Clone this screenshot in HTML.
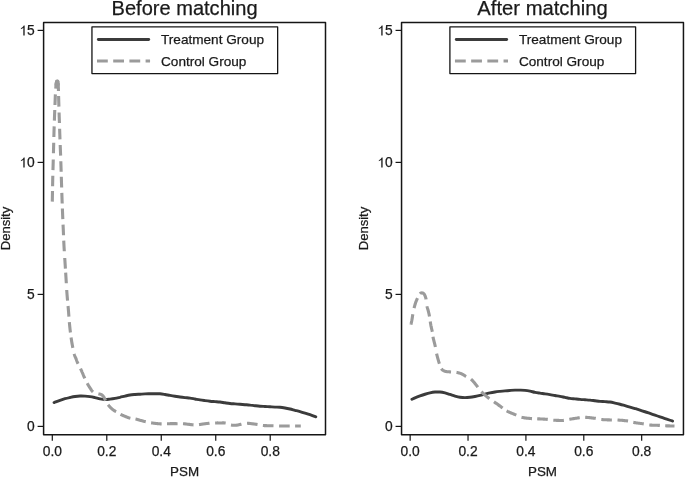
<!DOCTYPE html>
<html><head><meta charset="utf-8"><style>
html,body{margin:0;padding:0;background:#fff;}
svg{display:block;will-change:transform;font-family:'Liberation Sans',sans-serif;}
text{font-family:'Liberation Sans',sans-serif;stroke:#1a1a1a;stroke-width:0.25px;}
</style></head><body>
<svg width="685" height="478" viewBox="0 0 685 478">
<rect width="685" height="478" fill="#fff"/>
<rect x="43.60" y="22.4" width="281.9" height="412.45" fill="none" stroke="#151515" stroke-width="1.5" stroke-linejoin="round"/>
<text x="184.55" y="14.9" text-anchor="middle" font-size="19.3" textLength="146.0" lengthAdjust="spacingAndGlyphs" fill="#1a1a1a">Before matching</text>
<line x1="37.60" y1="30.4" x2="43.6" y2="30.4" stroke="#151515" stroke-width="1.2"/>
<text x="34.80" y="35.40" text-anchor="end" font-size="13.8" fill="#1a1a1a">5</text>
<path transform="translate(19.45,35.50) scale(0.006738,-0.006738)" d="M772,0L574,0L574,1147C539,1105 481,1063 410,1021C339,979 275,948 219,926L219,1100C319,1147 407,1204 482,1271C557,1338 610,1403 641,1466L772,1466Z" fill="#1a1a1a"/>
<line x1="37.60" y1="162.4" x2="43.6" y2="162.4" stroke="#151515" stroke-width="1.2"/>
<text x="34.80" y="167.40" text-anchor="end" font-size="13.8" fill="#1a1a1a">0</text>
<path transform="translate(19.45,167.50) scale(0.006738,-0.006738)" d="M772,0L574,0L574,1147C539,1105 481,1063 410,1021C339,979 275,948 219,926L219,1100C319,1147 407,1204 482,1271C557,1338 610,1403 641,1466L772,1466Z" fill="#1a1a1a"/>
<line x1="37.60" y1="294.4" x2="43.6" y2="294.4" stroke="#151515" stroke-width="1.2"/>
<text x="34.80" y="299.40" text-anchor="end" font-size="13.8" fill="#1a1a1a">5</text>
<line x1="37.60" y1="426.4" x2="43.6" y2="426.4" stroke="#151515" stroke-width="1.2"/>
<text x="34.80" y="431.40" text-anchor="end" font-size="13.8" fill="#1a1a1a">0</text>
<line x1="52.30" y1="434.8" x2="52.30" y2="440.7" stroke="#151515" stroke-width="1.2"/>
<text x="52.30" y="456.2" text-anchor="middle" font-size="13.8" fill="#1a1a1a">0.0</text>
<line x1="106.78" y1="434.8" x2="106.78" y2="440.7" stroke="#151515" stroke-width="1.2"/>
<text x="106.78" y="456.2" text-anchor="middle" font-size="13.8" fill="#1a1a1a">0.2</text>
<line x1="161.26" y1="434.8" x2="161.26" y2="440.7" stroke="#151515" stroke-width="1.2"/>
<text x="161.26" y="456.2" text-anchor="middle" font-size="13.8" fill="#1a1a1a">0.4</text>
<line x1="215.74" y1="434.8" x2="215.74" y2="440.7" stroke="#151515" stroke-width="1.2"/>
<text x="215.74" y="456.2" text-anchor="middle" font-size="13.8" fill="#1a1a1a">0.6</text>
<line x1="270.22" y1="434.8" x2="270.22" y2="440.7" stroke="#151515" stroke-width="1.2"/>
<text x="270.22" y="456.2" text-anchor="middle" font-size="13.8" fill="#1a1a1a">0.8</text>
<text x="184.55" y="476.4" text-anchor="middle" font-size="13.4" fill="#1a1a1a">PSM</text>
<text transform="translate(9.60,228.5) rotate(-90)" text-anchor="middle" font-size="13.0" fill="#1a1a1a">Density</text>
<rect x="91.95" y="26.95" width="185.7" height="46.65" fill="#fff" stroke="#151515" stroke-width="1.3" stroke-linejoin="round"/>
<line x1="98.35" y1="39.45" x2="148.70" y2="39.45" stroke="#3b3b3b" stroke-width="2.9" stroke-linecap="round"/>
<line x1="97.00" y1="61" x2="150.05" y2="61" stroke="#9b9b9b" stroke-width="3.1" stroke-dasharray="10.8 5.4"/>
<text x="161.00" y="44" font-size="13.6" fill="#1a1a1a">Treatment Group</text>
<text x="161.00" y="66" font-size="13.6" fill="#1a1a1a">Control Group</text>
<path d="M54.10,402.60C54.25,402.52 54.02,402.48 55.00,402.10C55.98,401.72 58.33,400.87 60.00,400.30C61.67,399.73 63.33,399.17 65.00,398.70C66.67,398.23 68.33,397.87 70.00,397.50C71.67,397.13 73.33,396.75 75.00,396.50C76.67,396.25 78.33,396.07 80.00,396.00C81.67,395.93 83.33,396.00 85.00,396.10C86.67,396.20 88.33,396.35 90.00,396.60C91.67,396.85 93.33,397.23 95.00,397.60C96.67,397.97 98.33,398.48 100.00,398.80C101.67,399.12 103.33,399.45 105.00,399.50C106.67,399.55 108.33,399.28 110.00,399.10C111.67,398.92 113.33,398.70 115.00,398.40C116.67,398.10 118.33,397.68 120.00,397.30C121.67,396.92 123.33,396.48 125.00,396.10C126.67,395.72 128.33,395.27 130.00,395.00C131.67,394.73 133.33,394.63 135.00,394.50C136.67,394.37 138.33,394.30 140.00,394.20C141.67,394.10 143.33,393.97 145.00,393.90C146.67,393.83 148.33,393.83 150.00,393.80C151.67,393.77 153.33,393.70 155.00,393.70C156.67,393.70 158.33,393.67 160.00,393.80C161.67,393.93 163.33,394.23 165.00,394.50C166.67,394.77 168.33,395.12 170.00,395.40C171.67,395.68 173.33,395.93 175.00,396.20C176.67,396.47 178.33,396.77 180.00,397.00C181.67,397.23 183.33,397.42 185.00,397.60C186.67,397.78 188.33,397.87 190.00,398.10C191.67,398.33 193.33,398.70 195.00,399.00C196.67,399.30 198.33,399.63 200.00,399.90C201.67,400.17 203.33,400.38 205.00,400.60C206.67,400.82 208.33,401.03 210.00,401.20C211.67,401.37 213.33,401.47 215.00,401.60C216.67,401.73 218.33,401.80 220.00,402.00C221.67,402.20 223.33,402.55 225.00,402.80C226.67,403.05 228.33,403.32 230.00,403.50C231.67,403.68 233.33,403.77 235.00,403.90C236.67,404.03 238.33,404.17 240.00,404.30C241.67,404.43 243.33,404.57 245.00,404.70C246.67,404.83 248.33,404.93 250.00,405.10C251.67,405.27 253.33,405.52 255.00,405.70C256.67,405.88 258.33,406.07 260.00,406.20C261.67,406.33 263.33,406.40 265.00,406.50C266.67,406.60 268.33,406.70 270.00,406.80C271.67,406.90 273.33,407.02 275.00,407.10C276.67,407.18 278.33,407.15 280.00,407.30C281.67,407.45 283.33,407.72 285.00,408.00C286.67,408.28 288.33,408.62 290.00,409.00C291.67,409.38 293.33,409.87 295.00,410.30C296.67,410.73 298.33,411.13 300.00,411.60C301.67,412.07 303.33,412.58 305.00,413.10C306.67,413.62 308.20,414.08 310.00,414.70C311.80,415.32 314.83,416.45 315.80,416.80" fill="none" stroke="#3b3b3b" stroke-width="2.9" stroke-linecap="round" stroke-linejoin="round"/>
<path d="M52.30,201.60 L52.31,201.10 L52.32,200.50 L52.33,199.80 L52.35,199.01 L52.36,198.16 L52.38,197.24 L52.40,196.27 L52.42,195.25 L52.44,194.21 L52.46,193.14 L52.48,192.07 L52.50,191.00M52.59,186.29 L52.61,185.01 L52.64,183.71 L52.66,182.40 L52.69,181.09 L52.72,179.78 L52.74,178.49 L52.77,177.23 L52.80,176.00 L52.81,175.69M52.96,170.15 L52.99,169.00 L53.03,167.85 L53.06,166.70 L53.10,165.55 L53.13,164.38 L53.17,163.20 L53.20,162.00 L53.23,160.79 L53.27,159.56 L53.27,159.55M53.43,153.30 L53.43,153.30 L53.47,152.04 L53.50,150.77 L53.53,149.51 L53.57,148.25 L53.60,147.00 L53.63,145.75 L53.67,144.50 L53.70,143.25 L53.71,142.70M53.86,137.00 L53.86,137.00 L53.89,135.75 L53.93,134.50 L53.96,133.25 L54.00,132.00 L54.04,130.74 L54.08,129.48 L54.12,128.20 L54.16,126.93 L54.18,126.41M54.37,120.61 L54.37,120.61 L54.42,119.38 L54.46,118.18 L54.50,117.00 L54.54,115.84 L54.58,114.68 L54.63,113.54 L54.67,112.41 L54.71,111.29 L54.76,110.19 L54.76,110.02M54.96,104.97 L55.00,104.00 L55.04,103.05 L55.07,102.13 L55.10,101.23 L55.14,100.35 L55.17,99.49 L55.20,98.66 L55.23,97.84 L55.26,97.04 L55.30,96.25 L55.33,95.49 L55.36,94.74 L55.38,94.38M55.72,88.69 L55.72,88.69 L55.77,88.11 L55.81,87.55 L55.85,87.01 L55.90,86.50 L55.95,86.01 L55.99,85.54 L56.04,85.09 L56.09,84.66 L56.14,84.26 L56.19,83.87 L56.24,83.50 L56.29,83.16 L56.34,82.84 L56.39,82.54 L56.45,82.26 L56.50,82.00 L56.56,81.77 L56.62,81.57 L56.68,81.40 L56.75,81.25 L56.82,81.13 L56.89,81.02 L56.95,80.93 L57.01,80.85 L57.07,80.78 L57.12,80.72 L57.17,80.66 L57.20,80.60M57.20,80.60 L57.23,80.66 L57.28,80.72 L57.33,80.78 L57.39,80.85 L57.46,80.93 L57.53,81.02 L57.59,81.13 L57.66,81.25 L57.73,81.40 L57.79,81.57 L57.85,81.77 L57.90,82.00 L57.94,82.25 L57.99,82.51 L58.02,82.79 L58.06,83.09 L58.09,83.40 L58.12,83.74 L58.16,84.11 L58.19,84.51 L58.21,84.95 L58.24,85.42 L58.27,85.94 L58.30,86.50 L58.33,87.10 L58.35,87.74 L58.38,88.42 L58.40,89.13 L58.43,89.88 L58.45,90.66 L58.46,90.99M58.60,96.00 L58.63,97.01 L58.66,98.06 L58.69,99.16 L58.72,100.30 L58.75,101.46 L58.79,102.66 L58.82,103.87 L58.86,105.09 L58.89,106.32 L58.90,106.60M59.08,112.44 L59.12,113.68 L59.16,114.93 L59.20,116.18 L59.24,117.44 L59.29,118.70 L59.33,119.96 L59.37,121.23 L59.42,122.49 L59.43,123.04M59.62,128.75 L59.66,130.00 L59.70,131.25 L59.74,132.50 L59.78,133.75 L59.83,135.00 L59.87,136.25 L59.91,137.50 L59.95,138.75 L59.98,139.34M60.20,145.00 L60.20,145.00 L60.25,146.25 L60.30,147.50 L60.35,148.75 L60.40,150.00 L60.45,151.25 L60.50,152.50 L60.55,153.75 L60.60,155.00 L60.62,155.59M60.82,161.20 L60.82,161.20 L60.86,162.44 L60.90,163.68 L60.94,164.93 L60.98,166.18 L61.02,167.44 L61.06,168.71 L61.10,170.00 L61.14,171.31 L61.16,171.79M61.31,176.80 L61.31,176.80 L61.36,178.19 L61.40,179.57 L61.44,180.93 L61.48,182.26 L61.52,183.55 L61.56,184.80 L61.60,186.00 L61.64,187.13 L61.64,187.39M61.82,192.92 L61.86,193.85 L61.89,194.81 L61.92,195.81 L61.96,196.87 L62.00,198.00 L62.04,199.19 L62.09,200.44 L62.13,201.72 L62.18,203.04 L62.20,203.51M62.39,208.52 L62.44,209.91 L62.49,211.29 L62.55,212.65 L62.60,214.00 L62.65,215.33 L62.71,216.67 L62.77,218.00 L62.82,219.11M63.06,224.67 L63.12,226.00 L63.18,227.33 L63.24,228.67 L63.30,230.00 L63.36,231.33 L63.41,232.67 L63.47,234.00 L63.52,235.26M63.74,240.67 L63.80,242.00 L63.87,243.33 L63.93,244.67 L64.00,246.00 L64.07,247.33 L64.15,248.67 L64.23,250.00 L64.31,251.25M64.74,258.00 L64.74,258.00 L64.83,259.33 L64.92,260.67 L65.00,262.00 L65.08,263.33 L65.17,264.67 L65.25,266.00 L65.33,267.33 L65.41,268.58M65.67,272.67 L65.75,274.00 L65.83,275.33 L65.92,276.67 L66.00,278.00 L66.08,279.33 L66.16,280.67 L66.24,282.00 L66.31,283.25M66.72,290.00 L66.72,290.00 L66.81,291.33 L66.90,292.67 L67.00,294.00 L67.10,295.33 L67.21,296.67 L67.32,298.00 L67.44,299.33 L67.55,300.57M68.05,306.00 L68.17,307.33 L68.29,308.67 L68.40,310.00 L68.51,311.34 L68.62,312.68 L68.72,314.02 L68.82,315.37 L68.91,316.57M69.34,322.07 L69.45,323.39 L69.57,324.70 L69.70,326.00 L69.84,327.29 L69.97,328.58 L70.12,329.87 L70.26,331.15 L70.41,332.43 L70.44,332.61M71.06,337.42 L71.24,338.63 L71.42,339.83 L71.60,341.00 L71.80,342.18 L72.00,343.37 L72.22,344.57 L72.45,345.77 L72.68,346.95 L72.86,347.86M74.20,353.90 L74.37,354.57 L74.54,355.14 L74.69,355.62 L74.83,356.03 L74.97,356.38 L75.11,356.68 L75.24,356.96 L75.37,357.22 L75.50,357.48 L75.63,357.75 L75.76,358.06 L75.90,358.40 L76.04,358.77 L76.17,359.12 L76.30,359.47 L76.42,359.82 L76.55,360.17 L76.67,360.52 L76.81,360.87 L76.94,361.23 L77.09,361.60 L77.25,361.99 L77.42,362.38 L77.60,362.80 L77.80,363.24 L78.02,363.70 L78.05,363.76M80.50,368.60 L80.50,368.60 L80.70,369.02 L80.89,369.41 L81.07,369.80 L81.24,370.17 L81.40,370.53 L81.56,370.88 L81.72,371.23 L81.87,371.58 L82.03,371.93 L82.18,372.28 L82.34,372.63 L82.50,373.00 L82.66,373.37 L82.81,373.73 L82.96,374.09 L83.11,374.45 L83.25,374.81 L83.40,375.17 L83.55,375.53 L83.70,375.91 L83.86,376.29 L84.03,376.68 L84.21,377.08 L84.40,377.50 L84.60,377.94 L84.77,378.30M87.20,383.20 L87.20,383.20 L87.42,383.60 L87.63,383.99 L87.84,384.36 L88.05,384.73 L88.26,385.08 L88.46,385.42 L88.67,385.75 L88.87,386.09 L89.08,386.41 L89.28,386.74 L89.49,387.07 L89.70,387.40 L89.91,387.74 L90.13,388.08 L90.35,388.43 L90.56,388.77 L90.78,389.11 L91.00,389.45 L91.22,389.78 L91.44,390.10 L91.65,390.40 L91.87,390.69 L92.09,390.95 L92.30,391.20 L92.51,391.42 L92.71,391.63 L92.91,391.81 L93.08,391.97M98.40,393.80 L98.68,393.87 L98.96,393.93 L99.23,393.99 L99.50,394.04 L99.77,394.10 L100.04,394.16 L100.30,394.23 L100.55,394.30 L100.80,394.38 L101.04,394.47 L101.27,394.58 L101.50,394.70 L101.72,394.83 L101.93,394.98 L102.13,395.14 L102.32,395.30 L102.51,395.48 L102.69,395.66 L102.87,395.85 L103.04,396.05 L103.21,396.26 L103.38,396.47 L103.54,396.68 L103.70,396.90 L103.85,397.13 L104.00,397.37 L104.14,397.62 L104.28,397.88 L104.41,398.14 L104.54,398.41 L104.67,398.68 L104.80,398.96 L104.92,399.22 L105.05,399.49 L105.17,399.75 L105.30,400.00 L105.43,400.25 L105.56,400.49 L105.64,400.65M108.10,404.80 L108.29,405.04 L108.50,405.29 L108.73,405.56 L108.97,405.85 L109.23,406.14 L109.49,406.44 L109.77,406.75 L110.05,407.05 L110.33,407.35 L110.62,407.65 L110.91,407.93 L111.20,408.20 L111.49,408.46 L111.80,408.72 L112.11,408.98 L112.43,409.23 L112.75,409.48 L113.08,409.72 L113.40,409.97 L113.73,410.20 L114.05,410.44 L114.38,410.66 L114.69,410.88 L115.00,411.10 L115.31,411.31 L115.62,411.52 L115.93,411.73 L116.01,411.77M120.50,414.40 L120.80,414.54 L121.13,414.68 L121.49,414.84 L121.87,415.01 L122.27,415.18 L122.69,415.36 L123.11,415.54 L123.54,415.72 L123.97,415.90 L124.39,416.07 L124.80,416.24 L125.20,416.40 L125.58,416.55 L125.96,416.71 L126.33,416.86 L126.70,417.02 L127.07,417.17 L127.44,417.32 L127.81,417.46 L128.19,417.60 L128.58,417.74 L128.97,417.87 L129.38,417.99 L129.80,418.10 L130.24,418.20 L130.37,418.23M135.50,419.00 L135.95,419.10 L136.39,419.21 L136.82,419.32 L137.25,419.43 L137.67,419.55 L138.09,419.68 L138.51,419.80 L138.93,419.92 L139.35,420.05 L139.76,420.17 L140.18,420.29 L140.60,420.40 L141.02,420.51 L141.43,420.62 L141.85,420.74 L142.26,420.85 L142.67,420.96 L143.07,421.07 L143.49,421.18 L143.90,421.29 L144.32,421.39 L144.74,421.50 L145.17,421.60 L145.60,421.70 L145.74,421.73M151.10,422.80 L151.54,422.87 L151.99,422.94 L152.42,423.01 L152.86,423.07 L153.29,423.14 L153.72,423.19 L154.16,423.25 L154.59,423.30 L155.01,423.36 L155.44,423.41 L155.87,423.45 L156.30,423.50 L156.73,423.55 L157.15,423.59 L157.57,423.63 L157.99,423.67 L158.41,423.71 L158.83,423.75 L159.24,423.78 L159.67,423.81 L160.09,423.84 L160.52,423.87 L160.96,423.89 L161.40,423.90 L161.64,423.90M167.00,423.80 L167.00,423.80 L167.46,423.79 L167.92,423.77 L168.38,423.75 L168.84,423.73 L169.30,423.71 L169.76,423.69 L170.21,423.67 L170.67,423.65 L171.13,423.63 L171.58,423.62 L172.04,423.61 L172.50,423.60 L172.96,423.60 L173.42,423.60 L173.89,423.61 L174.35,423.61 L174.82,423.63 L175.28,423.64 L175.74,423.65 L176.20,423.66 L176.66,423.68 L177.11,423.69 L177.56,423.69 L177.59,423.69M183.00,423.70 L183.00,423.70 L183.44,423.73 L183.89,423.77 L184.34,423.81 L184.80,423.86 L185.26,423.91 L185.72,423.96 L186.18,424.02 L186.65,424.08 L187.11,424.14 L187.58,424.19 L188.04,424.25 L188.50,424.30 L188.96,424.35 L189.42,424.41 L189.89,424.47 L190.35,424.53 L190.82,424.60 L191.28,424.66 L191.74,424.71 L192.20,424.77 L192.66,424.81 L193.11,424.85 L193.53,424.88M199.00,424.60 L199.44,424.55 L199.89,424.49 L200.34,424.43 L200.80,424.36 L201.26,424.29 L201.72,424.22 L202.19,424.14 L202.66,424.07 L203.12,424.00 L203.58,423.93 L204.04,423.86 L204.50,423.80 L204.95,423.74 L205.41,423.68 L205.86,423.63 L206.31,423.57 L206.77,423.52 L207.22,423.47 L207.67,423.42 L208.12,423.37 L208.57,423.32 L209.01,423.28 L209.46,423.24 L209.51,423.23M215.10,422.95 L215.54,422.94 L215.99,422.93 L216.44,422.93 L216.89,422.93 L217.34,422.92 L217.79,422.92 L218.24,422.93 L218.69,422.93 L219.15,422.93 L219.60,422.94 L220.05,422.94 L220.50,422.95 L220.95,422.95 L221.40,422.95 L221.86,422.94 L222.31,422.92 L222.77,422.91 L223.22,422.91 L223.67,422.91 L224.12,422.91 L224.57,422.94 L225.02,422.97 L225.46,423.03 L225.69,423.06M231.00,425.00 L231.44,425.08 L231.88,425.15 L232.33,425.20 L232.78,425.24 L233.23,425.27 L233.68,425.29 L234.13,425.29 L234.59,425.29 L235.04,425.28 L235.50,425.26 L235.95,425.23 L236.40,425.20 L236.85,425.15 L237.30,425.09 L237.75,425.01 L238.21,424.92 L238.66,424.82 L239.11,424.71 L239.56,424.60 L240.01,424.49 L240.46,424.38 L240.91,424.28 L241.36,424.19 L241.47,424.16M247.00,423.30 L247.44,423.30 L247.89,423.31 L248.34,423.33 L248.79,423.36 L249.24,423.41 L249.69,423.46 L250.15,423.51 L250.60,423.57 L251.05,423.63 L251.50,423.69 L251.95,423.75 L252.40,423.80 L252.85,423.85 L253.29,423.90 L253.73,423.95 L254.18,424.01 L254.62,424.06 L255.06,424.12 L255.50,424.18 L255.94,424.24 L256.38,424.30 L256.82,424.36 L257.26,424.43 L257.53,424.47M262.90,425.50 L262.90,425.50 L263.34,425.54 L263.79,425.58 L264.24,425.61 L264.69,425.63 L265.14,425.65 L265.59,425.66 L266.05,425.66 L266.50,425.67 L266.95,425.68 L267.40,425.68 L267.85,425.69 L268.30,425.70 L268.74,425.71 L269.19,425.72 L269.63,425.73 L270.07,425.74 L270.51,425.74 L270.94,425.75 L271.38,425.76 L271.82,425.76 L272.26,425.77 L272.71,425.78 L273.15,425.79 L273.49,425.80M279.10,426.00 L279.55,426.01 L280.00,426.01 L280.44,426.01 L280.89,426.01 L281.33,426.01 L281.77,426.01 L282.21,426.01 L282.65,426.01 L283.09,426.00 L283.52,426.00 L283.96,426.00 L284.40,426.00 L284.84,426.00 L285.27,426.00 L285.70,426.00 L286.13,426.00 L286.56,426.00 L286.99,426.00 L287.42,426.00 L287.85,426.00 L288.28,426.00 L288.72,426.00 L289.16,426.00 L289.60,426.00 L289.70,426.00M295.10,426.00 L295.59,426.00 L296.10,426.00 L296.64,426.00 L297.20,426.00 L297.75,426.00 L298.29,426.00 L298.82,426.00 L299.31,426.00 L299.77,426.00 L300.18,426.00 L300.52,426.00 L300.80,426.00" fill="none" stroke="#9b9b9b" stroke-width="3.1" stroke-linejoin="round"/>
<path d="M56.0,84.5 L56.6,81.6 L57.2,80.9 L57.8,81.6 L58.3,84.5" fill="none" stroke="#9b9b9b" stroke-width="3.1" stroke-linejoin="round" stroke-linecap="round"/>
<rect x="401.55" y="22.4" width="281.9" height="412.45" fill="none" stroke="#151515" stroke-width="1.5" stroke-linejoin="round"/>
<text x="542.50" y="14.9" text-anchor="middle" font-size="19.3" textLength="130.3" lengthAdjust="spacingAndGlyphs" fill="#1a1a1a">After matching</text>
<line x1="395.55" y1="30.4" x2="401.55" y2="30.4" stroke="#151515" stroke-width="1.2"/>
<text x="392.75" y="35.40" text-anchor="end" font-size="13.8" fill="#1a1a1a">5</text>
<path transform="translate(377.40,35.50) scale(0.006738,-0.006738)" d="M772,0L574,0L574,1147C539,1105 481,1063 410,1021C339,979 275,948 219,926L219,1100C319,1147 407,1204 482,1271C557,1338 610,1403 641,1466L772,1466Z" fill="#1a1a1a"/>
<line x1="395.55" y1="162.4" x2="401.55" y2="162.4" stroke="#151515" stroke-width="1.2"/>
<text x="392.75" y="167.40" text-anchor="end" font-size="13.8" fill="#1a1a1a">0</text>
<path transform="translate(377.40,167.50) scale(0.006738,-0.006738)" d="M772,0L574,0L574,1147C539,1105 481,1063 410,1021C339,979 275,948 219,926L219,1100C319,1147 407,1204 482,1271C557,1338 610,1403 641,1466L772,1466Z" fill="#1a1a1a"/>
<line x1="395.55" y1="294.4" x2="401.55" y2="294.4" stroke="#151515" stroke-width="1.2"/>
<text x="392.75" y="299.40" text-anchor="end" font-size="13.8" fill="#1a1a1a">5</text>
<line x1="395.55" y1="426.4" x2="401.55" y2="426.4" stroke="#151515" stroke-width="1.2"/>
<text x="392.75" y="431.40" text-anchor="end" font-size="13.8" fill="#1a1a1a">0</text>
<line x1="410.15" y1="434.8" x2="410.15" y2="440.7" stroke="#151515" stroke-width="1.2"/>
<text x="410.15" y="456.2" text-anchor="middle" font-size="13.8" fill="#1a1a1a">0.0</text>
<line x1="468.03" y1="434.8" x2="468.03" y2="440.7" stroke="#151515" stroke-width="1.2"/>
<text x="468.03" y="456.2" text-anchor="middle" font-size="13.8" fill="#1a1a1a">0.2</text>
<line x1="525.91" y1="434.8" x2="525.91" y2="440.7" stroke="#151515" stroke-width="1.2"/>
<text x="525.91" y="456.2" text-anchor="middle" font-size="13.8" fill="#1a1a1a">0.4</text>
<line x1="583.79" y1="434.8" x2="583.79" y2="440.7" stroke="#151515" stroke-width="1.2"/>
<text x="583.79" y="456.2" text-anchor="middle" font-size="13.8" fill="#1a1a1a">0.6</text>
<line x1="641.67" y1="434.8" x2="641.67" y2="440.7" stroke="#151515" stroke-width="1.2"/>
<text x="641.67" y="456.2" text-anchor="middle" font-size="13.8" fill="#1a1a1a">0.8</text>
<text x="542.50" y="476.4" text-anchor="middle" font-size="13.4" fill="#1a1a1a">PSM</text>
<text transform="translate(367.55,228.5) rotate(-90)" text-anchor="middle" font-size="13.0" fill="#1a1a1a">Density</text>
<rect x="449.90" y="26.95" width="185.7" height="46.65" fill="#fff" stroke="#151515" stroke-width="1.3" stroke-linejoin="round"/>
<line x1="456.30" y1="39.45" x2="506.65" y2="39.45" stroke="#3b3b3b" stroke-width="2.9" stroke-linecap="round"/>
<line x1="454.95" y1="61" x2="508.00" y2="61" stroke="#9b9b9b" stroke-width="3.1" stroke-dasharray="10.8 5.4"/>
<text x="518.95" y="44" font-size="13.6" fill="#1a1a1a">Treatment Group</text>
<text x="518.95" y="66" font-size="13.6" fill="#1a1a1a">Control Group</text>
<path d="M411.90,399.25C412.42,399.02 413.65,398.40 415.00,397.85C416.35,397.30 418.33,396.55 420.00,395.95C421.67,395.35 423.33,394.77 425.00,394.25C426.67,393.73 428.33,393.22 430.00,392.85C431.67,392.48 433.33,392.18 435.00,392.05C436.67,391.92 438.33,391.90 440.00,392.05C441.67,392.20 443.33,392.55 445.00,392.95C446.67,393.35 448.33,393.93 450.00,394.45C451.67,394.97 453.33,395.58 455.00,396.05C456.67,396.52 458.33,396.98 460.00,397.25C461.67,397.52 463.33,397.65 465.00,397.65C466.67,397.65 468.33,397.45 470.00,397.25C471.67,397.05 473.33,396.75 475.00,396.45C476.67,396.15 478.33,395.83 480.00,395.45C481.67,395.07 483.33,394.58 485.00,394.15C486.67,393.72 488.33,393.22 490.00,392.85C491.67,392.48 493.33,392.20 495.00,391.95C496.67,391.70 498.33,391.53 500.00,391.35C501.67,391.17 503.33,391.00 505.00,390.85C506.67,390.70 508.33,390.57 510.00,390.45C511.67,390.33 513.33,390.20 515.00,390.15C516.67,390.10 518.33,390.12 520.00,390.15C521.67,390.18 523.33,390.18 525.00,390.35C526.67,390.52 528.33,390.82 530.00,391.15C531.67,391.48 533.33,392.02 535.00,392.35C536.67,392.68 538.33,392.90 540.00,393.15C541.67,393.40 543.33,393.60 545.00,393.85C546.67,394.10 548.33,394.37 550.00,394.65C551.67,394.93 553.33,395.27 555.00,395.55C556.67,395.83 558.33,396.05 560.00,396.35C561.67,396.65 563.33,397.02 565.00,397.35C566.67,397.68 568.33,398.10 570.00,398.35C571.67,398.60 573.33,398.68 575.00,398.85C576.67,399.02 578.33,399.20 580.00,399.35C581.67,399.50 583.33,399.62 585.00,399.75C586.67,399.88 588.33,399.98 590.00,400.15C591.67,400.32 593.33,400.55 595.00,400.75C596.67,400.95 598.33,401.20 600.00,401.35C601.67,401.50 603.33,401.53 605.00,401.65C606.67,401.77 608.33,401.82 610.00,402.05C611.67,402.28 613.33,402.68 615.00,403.05C616.67,403.42 618.33,403.82 620.00,404.25C621.67,404.68 623.33,405.18 625.00,405.65C626.67,406.12 628.33,406.57 630.00,407.05C631.67,407.53 633.33,408.03 635.00,408.55C636.67,409.07 638.33,409.62 640.00,410.15C641.67,410.68 643.33,411.20 645.00,411.75C646.67,412.30 648.33,412.88 650.00,413.45C651.67,414.02 653.33,414.58 655.00,415.15C656.67,415.72 658.33,416.28 660.00,416.85C661.67,417.42 663.33,417.98 665.00,418.55C666.67,419.12 668.73,419.83 670.00,420.25C671.27,420.67 672.17,420.92 672.60,421.05" fill="none" stroke="#3b3b3b" stroke-width="2.9" stroke-linecap="round" stroke-linejoin="round"/>
<path d="M410.90,324.60 L410.95,324.36 L411.02,324.08 L411.09,323.75 L411.18,323.39 L411.27,322.98 L411.37,322.55 L411.47,322.09 L411.58,321.60 L411.69,321.10 L411.79,320.58 L411.90,320.04 L412.00,319.50 L412.10,318.93 L412.20,318.33 L412.30,317.69 L412.40,317.03 L412.50,316.35 L412.60,315.65 L412.71,314.94 L412.81,314.24 L412.82,314.18M414.04,308.22 L414.04,308.22 L414.21,307.57 L414.37,306.94 L414.54,306.31 L414.70,305.70 L414.87,305.11 L415.04,304.54 L415.20,304.00 L415.36,303.48 L415.52,303.00 L415.68,302.53 L415.84,302.08 L416.00,301.65 L416.16,301.23 L416.33,300.82 L416.49,300.42 L416.66,300.02 L416.84,299.62 L417.02,299.21 L417.20,298.80 L417.39,298.37 L417.46,298.21M419.90,293.77 L419.90,293.77 L420.10,293.57 L420.29,293.41 L420.49,293.27 L420.68,293.16 L420.87,293.07 L421.06,293.00 L421.25,292.95 L421.44,292.92 L421.62,292.90 L421.81,292.90 L422.00,292.90 L422.19,292.91 L422.38,292.94 L422.57,292.98 L422.76,293.03 L422.94,293.10 L423.13,293.19 L423.32,293.30 L423.50,293.43 L423.68,293.59 L423.86,293.76 L424.03,293.97 L424.20,294.20 L424.37,294.46 L424.53,294.74 L424.70,295.05 L424.86,295.39 L425.02,295.74 L425.17,296.12 L425.33,296.52 L425.47,296.94 L425.62,297.38 L425.75,297.83 L425.88,298.31 L426.00,298.80 L426.11,299.33 L426.12,299.40M427.00,306.20 L427.10,306.69 L427.20,307.14 L427.31,307.57 L427.41,307.97 L427.53,308.35 L427.64,308.72 L427.75,309.08 L427.86,309.44 L427.98,309.81 L428.09,310.19 L428.19,310.58 L428.30,311.00 L428.40,311.42 L428.50,311.84 L428.60,312.26 L428.70,312.67 L428.80,313.09 L428.90,313.52 L429.00,313.96 L429.10,314.42 L429.20,314.90 L429.30,315.40 L429.40,315.93 L429.50,316.49M430.25,321.46 L430.25,321.46 L430.36,322.22 L430.47,322.96 L430.58,323.68 L430.69,324.36 L430.80,325.00 L430.91,325.60 L431.03,326.17 L431.15,326.72 L431.27,327.25 L431.40,327.77 L431.52,328.27 L431.64,328.77 L431.76,329.26 L431.88,329.76 L431.99,330.26 L432.10,330.77 L432.20,331.30 L432.29,331.83 L432.30,331.86M432.97,336.68 L433.08,337.28 L433.20,337.90 L433.34,338.55 L433.50,339.23 L433.67,339.94 L433.85,340.67 L434.04,341.42 L434.23,342.17 L434.43,342.92 L434.62,343.67 L434.81,344.41 L434.98,345.13 L435.15,345.83 L435.30,346.50 L435.40,347.00M436.60,353.60 L436.76,354.29 L436.94,355.01 L437.12,355.76 L437.32,356.53 L437.52,357.32 L437.73,358.11 L437.94,358.89 L438.16,359.67 L438.37,360.42 L438.59,361.15 L438.80,361.85 L439.00,362.50 L439.20,363.12 L439.39,363.73 L439.42,363.82M441.40,368.70 L441.40,368.70 L441.64,369.04 L441.89,369.35 L442.14,369.63 L442.39,369.87 L442.65,370.10 L442.93,370.29 L443.21,370.47 L443.50,370.64 L443.80,370.79 L444.12,370.93 L444.45,371.07 L444.80,371.20 L445.17,371.32 L445.55,371.42 L445.94,371.51 L446.35,371.57 L446.77,371.63 L447.21,371.68 L447.65,371.71 L448.10,371.75 L448.57,371.78 L449.04,371.82 L449.52,371.85 L450.00,371.90 L450.50,371.95 L451.03,371.98 L451.03,371.98M456.50,372.40 L456.97,372.48 L457.43,372.57 L457.88,372.67 L458.31,372.77 L458.74,372.87 L459.16,372.99 L459.56,373.11 L459.96,373.23 L460.36,373.37 L460.74,373.50 L461.12,373.65 L461.50,373.80 L461.86,373.96 L462.21,374.12 L462.54,374.30 L462.85,374.47 L463.16,374.66 L463.47,374.85 L463.78,375.05 L464.09,375.25 L464.42,375.45 L464.76,375.67 L465.12,375.88 L465.50,376.10 L465.90,376.31 L466.19,376.45M471.00,379.10 L471.00,379.10 L471.50,379.56 L472.03,380.09 L472.57,380.67 L473.12,381.29 L473.68,381.94 L474.24,382.61 L474.79,383.28 L475.33,383.96 L475.86,384.61 L476.37,385.25 L476.85,385.85 L477.30,386.40 L477.71,386.91 L477.89,387.14M481.40,391.70 L481.40,391.70 L481.89,392.20 L482.43,392.72 L483.00,393.26 L483.60,393.82 L484.23,394.38 L484.86,394.94 L485.50,395.50 L486.14,396.05 L486.77,396.58 L487.37,397.08 L487.95,397.56 L488.50,398.00 L489.01,398.40 L489.37,398.67M494.00,401.80 L494.00,401.80 L494.58,402.21 L495.20,402.65 L495.86,403.12 L496.54,403.61 L497.24,404.11 L497.94,404.62 L498.65,405.12 L499.34,405.62 L500.01,406.11 L500.65,406.57 L501.25,407.00 L501.80,407.40 L502.29,407.76 L502.60,408.00M506.60,410.90 L507.22,411.22 L507.92,411.56 L508.67,411.90 L509.47,412.26 L510.30,412.61 L511.14,412.97 L511.99,413.32 L512.83,413.67 L513.64,414.00 L514.42,414.32 L515.14,414.62 L515.80,414.90 L516.32,415.13M521.50,417.30 L522.20,417.45 L522.97,417.59 L523.80,417.73 L524.67,417.86 L525.58,417.98 L526.50,418.09 L527.42,418.19 L528.33,418.29 L529.20,418.38 L530.03,418.46 L530.80,418.53 L531.50,418.60 L532.01,418.64M537.20,418.80 L537.92,418.84 L538.73,418.87 L539.60,418.92 L540.53,418.96 L541.48,419.01 L542.46,419.06 L543.43,419.12 L544.39,419.17 L545.31,419.23 L546.18,419.28 L546.98,419.34 L547.70,419.40 L547.78,419.41M553.30,420.20 L553.30,420.20 L554.02,420.24 L554.82,420.28 L555.70,420.32 L556.62,420.36 L557.58,420.39 L558.56,420.42 L559.53,420.44 L560.49,420.45 L561.41,420.46 L562.28,420.45 L563.08,420.43 L563.80,420.40 L563.89,420.39M569.30,419.30 L570.02,419.18 L570.82,419.05 L571.69,418.91 L572.62,418.76 L573.58,418.61 L574.56,418.46 L575.53,418.31 L576.49,418.16 L577.42,418.03 L578.29,417.90 L579.09,417.79 L579.78,417.70M585.20,417.30 L585.91,417.34 L586.71,417.40 L587.58,417.47 L588.50,417.56 L589.46,417.65 L590.44,417.76 L591.41,417.87 L592.37,417.98 L593.30,418.09 L594.17,418.20 L594.98,418.30 L595.70,418.40 L595.74,418.41M601.30,419.50 L601.30,419.50 L602.01,419.56 L602.81,419.62 L603.67,419.68 L604.58,419.73 L605.53,419.78 L606.49,419.82 L607.45,419.86 L608.40,419.89 L609.31,419.92 L610.18,419.95 L610.98,419.98 L611.70,420.00 L611.89,420.00M617.50,420.00 L617.50,420.00 L618.22,420.05 L619.01,420.10 L619.87,420.17 L620.78,420.24 L621.72,420.33 L622.67,420.41 L623.62,420.50 L624.56,420.60 L625.46,420.70 L626.31,420.80 L627.10,420.90 L627.80,421.00 L628.05,421.04M633.30,422.40 L633.30,422.40 L634.02,422.52 L634.82,422.65 L635.69,422.78 L636.61,422.91 L637.57,423.04 L638.55,423.17 L639.53,423.30 L640.49,423.43 L641.41,423.55 L642.28,423.67 L643.08,423.79 L643.79,423.90M649.30,425.00 L649.30,425.00 L650.01,425.06 L650.79,425.11 L651.65,425.15 L652.55,425.19 L653.49,425.22 L654.44,425.24 L655.40,425.27 L656.34,425.29 L657.24,425.32 L658.10,425.34 L658.89,425.37 L659.60,425.40 L659.89,425.42M665.20,425.80 L665.20,425.80 L665.88,425.82 L666.64,425.85 L667.48,425.87 L668.37,425.89 L669.28,425.91 L670.20,425.93 L671.10,425.94 L671.95,425.96 L672.74,425.97 L673.45,425.98 L674.04,425.99 L674.50,426.00" fill="none" stroke="#9b9b9b" stroke-width="3.1" stroke-linejoin="round"/>
</svg>
</body></html>
